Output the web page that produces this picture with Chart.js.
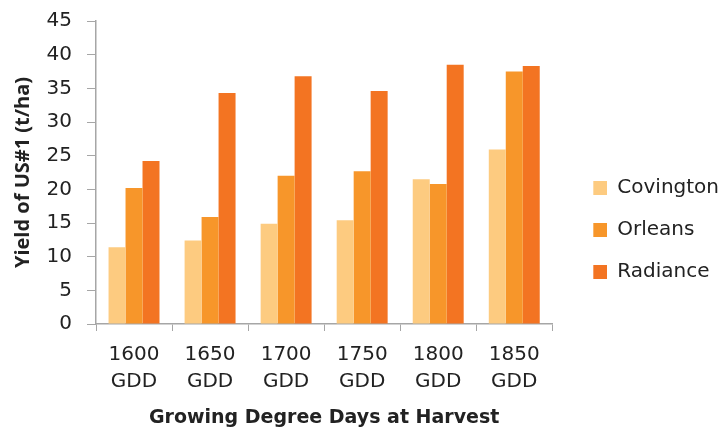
<!DOCTYPE html>
<html>
<head>
<meta charset="utf-8">
<script src="https://cdn.jsdelivr.net/npm/chart.js@4/dist/chart.umd.min.js"></script>
<style>
  html, body { margin: 0; padding: 0; background: #fff; }
  #wrap { width: 722px; height: 431px; }
</style>
</head>
<body>
<div id="wrap"><canvas id="chart" width="722" height="431"></canvas></div>
<script>
// categorias (dos lineas cada una)
const categories = [["1600", "GDD"], ["1650", "GDD"], ["1700", "GDD"], ["1750", "GDD"], ["1800", "GDD"], ["1850", "GDD"]];

// rendimiento por variedad (t/ha)
const covington = [11.4, 12.4, 14.9, 15.4, 21.5, 25.9];
const orleans   = [20.2, 15.9, 22.0, 22.7, 20.8, 37.5];
const radiance  = [24.2, 34.3, 36.8, 34.6, 38.5, 38.3];

const seriesNames = ["Covington", "Orleans", "Radiance"];
const seriesColors = ["#fdcb80", "#f7962a", "#f37422"];

const axisGray = "#a6a6a6";
const txt = "#222";

// cuadrito de la leyenda: lienzo con hueco a la izquierda para separarlo del grafico
const SWATCH_W = 33;
function makeSwatch(color){
  const c = document.createElement("canvas");
  c.width = SWATCH_W;
  c.height = 14;
  const g = c.getContext("2d");
  g.fillStyle = color;
  g.fillRect(SWATCH_W - 14, 0, 14, 14);
  return c;
}
const swatches = seriesColors.map(makeSwatch);

function makeSet(i, values){
  return {
    label: seriesNames[i],
    data: values,
    backgroundColor: seriesColors[i],
    borderWidth: 0,
    categoryPercentage: 0.67,
    barPercentage: 1.0
  };
}

const ctx = document.getElementById("chart").getContext("2d");
new Chart(ctx, {
  type: "bar",
  data: {
    labels: categories,
    datasets: [makeSet(0, covington), makeSet(1, orleans), makeSet(2, radiance)]
  },
  options: {
    responsive: false,
    animation: false,
    layout: { padding: { left: 11, right: -7, top: 21, bottom: 2 } },
    plugins: {
      tooltip: { enabled: false },
      legend: {
        position: "right",
        // titulo vacio solo para bajar un poco la leyenda
        title: { display: true, text: " ", font: { size: 1 }, padding: { top: 9, bottom: 0 } },
        labels: {
          usePointStyle: true,
          pointStyleWidth: SWATCH_W,
          boxHeight: 14,
          padding: 22,
          color: txt,
          font: { family: "DejaVu Sans", size: 20 },
          generateLabels(chart){
            const items = Chart.defaults.plugins.legend.labels.generateLabels(chart);
            items.forEach((it, i) => { it.pointStyle = swatches[i]; });
            return items;
          }
        }
      }
    },
    scales: {
      x: {
        afterFit(scale){ scale.height = 105; scale.paddingLeft = 0; scale.paddingRight = 0; },
        grid: { display: true, drawOnChartArea: false, tickLength: 7, color: axisGray, offset: true },
        border: { color: axisGray, width: 1.5 },
        ticks: { color: txt, padding: 10, font: { family: "DejaVu Sans", size: 20, lineHeight: 1.35 }, maxRotation: 0 },
        title: {
          display: true,
          text: "Growing Degree Days at Harvest",
          color: txt,
          font: { family: "DejaVu Sans", size: 19, weight: "bold" },
          padding: { top: 11, bottom: 0 }
        }
      },
      y: {
        min: 0,
        max: 45,
        afterFit(scale){ scale.width = 85; scale.paddingTop = 0; scale.paddingBottom = 0; },
        grid: { display: true, drawOnChartArea: false, tickLength: 9, color: axisGray },
        border: { color: axisGray, width: 1.5 },
        ticks: { stepSize: 5, color: txt, padding: 15, font: { family: "DejaVu Sans", size: 20 } },
        title: {
          display: true,
          text: "Yield of US#1 (t/ha)",
          color: txt,
          font: { family: "Open Sans", size: 20, weight: "bold" },
          padding: { top: 0, bottom: 11 }
        }
      }
    }
  }
});
</script>
</body>
</html>
